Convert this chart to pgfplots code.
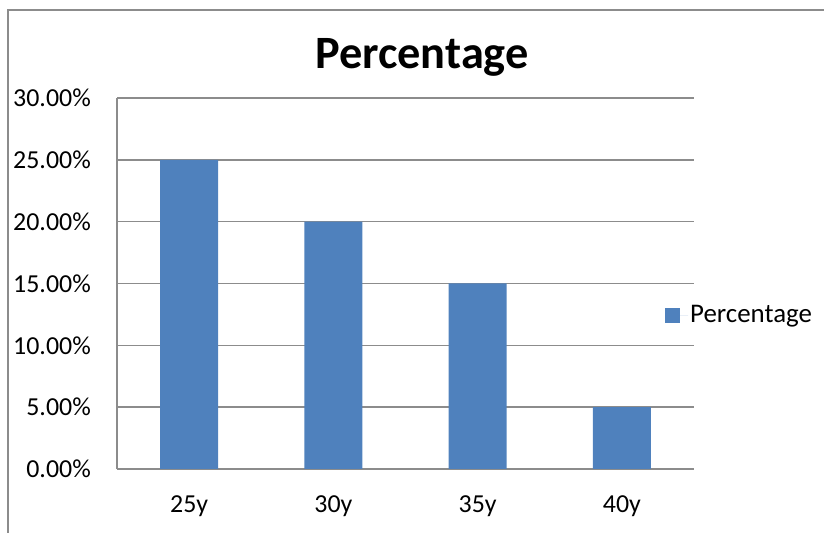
\documentclass[border=0pt]{standalone}
\usepackage{pgfplots}
\pgfplotsset{compat=1.18}
\usepackage{fontspec}
\setmainfont{Carlito}
\definecolor{barblue}{HTML}{4F81BD}
\definecolor{gridgray}{HTML}{8C8C8C}
\begin{document}
\begin{tikzpicture}
\path[use as bounding box] (0,0) rectangle (824bp,533bp);
\draw[gridgray, line width=1.5bp] (8bp,0) -- (8bp,523bp) -- (824bp,523bp);
\node[anchor=base, inner sep=0pt] at (422bp,464bp) {\fontsize{46.5}{50}\selectfont\bfseries Percentage};
\begin{axis}[
  at={(117bp,64bp)}, anchor=south west,
  scale only axis, width=577bp, height=371bp,
  xmin=0, xmax=4, ymin=0, ymax=30,
  xtick={0.5,1.5,2.5,3.5}, xticklabels={25y,30y,35y,40y},
  ytick={0,5,10,15,20,25,30},
  yticklabels={0.00\%,5.00\%,10.00\%,15.00\%,20.00\%,25.00\%,30.00\%},
  axis x line*=bottom, axis y line*=left,
  axis line style={gridgray, line width=1.5bp},
  ymajorgrids, grid style={gridgray, line width=1.5bp},
  major tick length=0pt,
  tick label style={font=\fontsize{26}{30}\selectfont},
  yticklabel style={anchor=east, inner sep=0pt, xshift=-26bp},
  xticklabel style={anchor=base, inner sep=0pt, yshift=-43bp},
  legend style={at={(0.9497,0.415)}, anchor=west, draw=none, fill=none,
    inner sep=0pt, font=\fontsize{27}{30}\selectfont, cells={anchor=west}},
  legend image code/.code={\fill[barblue] (0bp,-7.5bp) rectangle (15bp,7.5bp);
    \path (15bp,0) -- (23bp,0);},
  clip=false,
]
\addplot[ybar, bar width=58bp, fill=barblue, draw=none] coordinates {
  (0.5,25) (1.5,20) (2.5,15) (3.5,5)
};
\addlegendentry{Percentage}
\end{axis}
\end{tikzpicture}
\end{document}
